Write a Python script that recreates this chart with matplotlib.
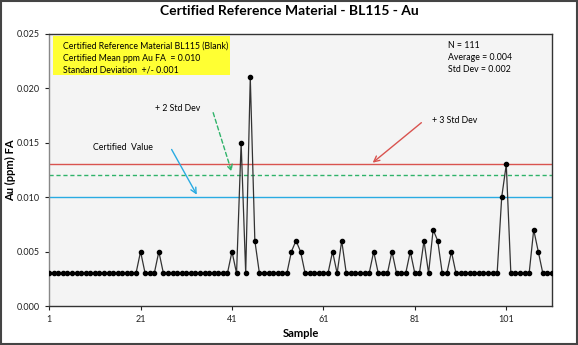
import numpy as np
import matplotlib
matplotlib.use("Agg")
import matplotlib.pyplot as plt
from matplotlib.patches import Rectangle

plt.rcParams['font.family'] = ['Lato', 'DejaVu Sans']

# Au values (ppm) for samples 1..111
au = [0.003] * 111
spikes = {21: 0.005, 25: 0.005, 41: 0.005, 43: 0.015, 45: 0.021, 46: 0.006,
          54: 0.005, 55: 0.006, 56: 0.005, 63: 0.005, 65: 0.006, 72: 0.005,
          76: 0.005, 80: 0.005, 83: 0.006, 85: 0.007, 86: 0.006, 89: 0.005,
          100: 0.010, 101: 0.013, 107: 0.007, 108: 0.005}
for k, v in spikes.items():
    au[k - 1] = v
samples = np.arange(1, len(au) + 1)

certified = 0.010
plus2sd = 0.012
plus3sd = 0.013
xticks = [1, 21, 41, 61, 81, 101]
yticks = [0.000, 0.005, 0.010, 0.015, 0.020, 0.025]

fig = plt.figure(figsize=(5.78, 3.45), dpi=100)
ax = fig.add_axes([0.085, 0.113, 0.870, 0.789])
ax.set_facecolor('#f4f4f4')

ax.axhline(plus3sd, color='#d9534f', lw=1.0, zorder=2)
ax.axhline(plus2sd, color='#2fb36a', lw=1.0, ls=(0, (3, 2)), zorder=2)
ax.axhline(certified, color='#29abe2', lw=1.0, zorder=2)

ax.plot(samples, au, color='#333333', lw=0.9, marker='o', ms=3.0,
        mfc='black', mec='black', zorder=3)

ax.set_xlim(1, 111)
ax.set_ylim(0, 0.025)
ax.set_xticks(xticks)
ax.set_yticks(yticks)
ax.set_yticklabels([f'{t:.3f}' for t in yticks])
ax.tick_params(labelsize=6.5, length=3, width=0.8, colors='#222222')
for s in ax.spines.values():
    s.set_color('#333333')
    s.set_linewidth(1.0)
ax.spines['left'].set_color('#888888')

ax.set_xlabel('Sample', fontsize=8, fontweight='bold', labelpad=3)
ax.set_ylabel('Au (ppm) FA', fontsize=8, fontweight='bold', labelpad=1)
fig.suptitle('Certified Reference Material - BL115 - Au', fontsize=10,
             fontweight='bold', y=0.985)

# yellow info box
ax.add_patch(Rectangle((0.008, 0.849), 0.352, 0.144, transform=ax.transAxes,
                       facecolor='#ffff33', edgecolor='none', zorder=4))
info = ['Certified Reference Material BL115 (Blank)',
        'Certified Mean ppm Au FA  = 0.010',
        'Standard Deviation  +/- 0.001']
for i, line in enumerate(info):
    ax.text(0.028, 0.955 - i * 0.044, line, transform=ax.transAxes,
            fontsize=6.3, va='center', zorder=5)

stats = ['N = 111', 'Average = 0.004', 'Std Dev = 0.002']
for i, line in enumerate(stats):
    ax.text(0.793, 0.957 - i * 0.044, line, transform=ax.transAxes,
            fontsize=6.3, va='center')

ax.annotate('', xy=(41.1, 0.0121), xytext=(36.7, 0.0180),
            arrowprops=dict(arrowstyle='->', color='#2fb36a', lw=1.0,
                            ls=(0, (3, 2))))
ax.text(29.0, 0.0181, '+ 2 Std Dev', fontsize=6.3, ha='center', va='center')

ax.annotate('', xy=(33.6, 0.0100), xytext=(27.5, 0.0146),
            arrowprops=dict(arrowstyle='->', color='#29abe2', lw=1.0))
ax.text(17.2, 0.0146, 'Certified  Value', fontsize=6.3, ha='center',
        va='center')

ax.annotate('', xy=(71.3, 0.0130), xytext=(82.9, 0.0170),
            arrowprops=dict(arrowstyle='->', color='#d9534f', lw=1.0))
ax.text(84.8, 0.0170, '+ 3 Std Dev', fontsize=6.3, ha='left', va='center')

fig.patches.append(Rectangle((0.002, 0.003), 0.996, 0.994,
                             transform=fig.transFigure, fill=False,
                             edgecolor='#444444', lw=1.5))

fig.savefig('out.png', dpi=100)
